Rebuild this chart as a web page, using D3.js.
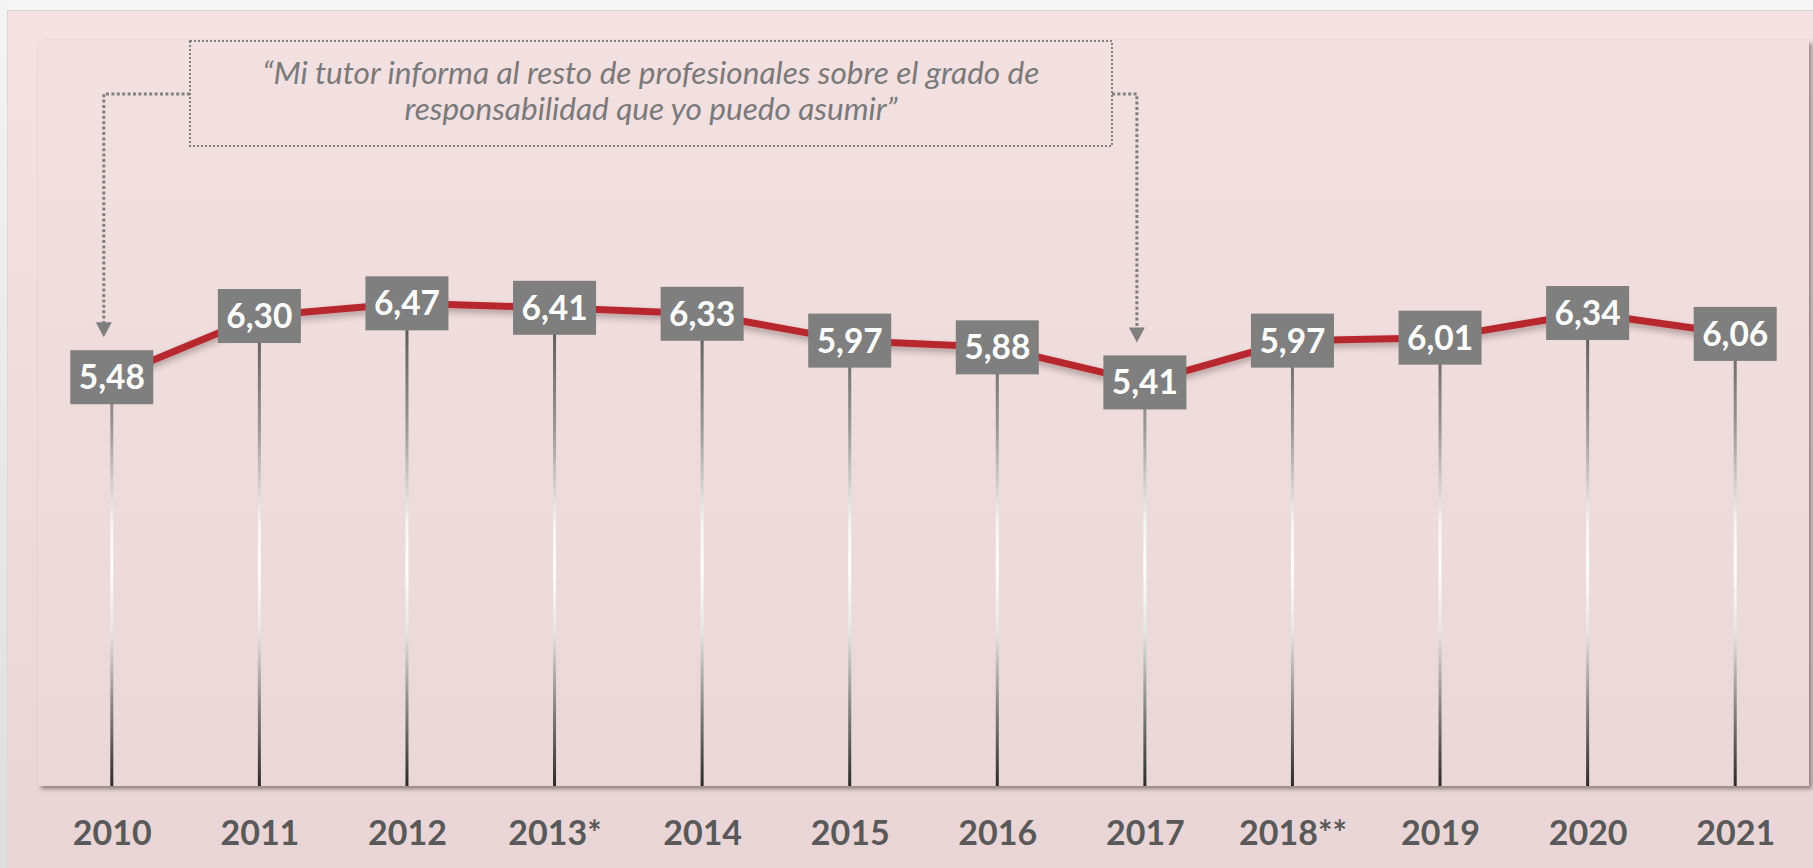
<!DOCTYPE html>
<html>
<head>
<meta charset="utf-8">
<script src="https://cdn.jsdelivr.net/npm/d3@7/dist/d3.min.js"></script>
<style>
  html, body { margin: 0; padding: 0; background: #f6f6f6; }
  svg { display: block; }
</style>
</head>
<body>
<svg id="chart" width="1813" height="868"></svg>
<script>
// ---- data ----
const categories = ["2010", "2011", "2012", "2013*", "2014", "2015", "2016", "2017", "2018**", "2019", "2020", "2021"];
const values = [5.48, 6.30, 6.47, 6.41, 6.33, 5.97, 5.88, 5.41, 5.97, 6.01, 6.34, 6.06];
const yDomain = [0, 10];
const annotationLines = [
  "\u201cMi tutor informa al resto de profesionales sobre el grado de",
  "responsabilidad que yo puedo asumir\u201d"
];
const annotationTargets = ["2010", "2017"];

// ---- layout ----
const W = 1813, H = 868;
const plot = { left: 38, top: 40, right: 1809, bottom: 786 };
const svg = d3.select("#chart");
const defs = svg.append("defs");

const fmt = v => d3.format(".2f")(v).replace(".", ",");

// gradients
const panelGrad = defs.append("linearGradient").attr("id", "panelGrad")
  .attr("x1", 0).attr("y1", 0).attr("x2", 0).attr("y2", 1);
panelGrad.append("stop").attr("offset", 0).attr("stop-color", "#f5e2e3");
panelGrad.append("stop").attr("offset", 1).attr("stop-color", "#e9d5d5");

const plotGrad = defs.append("linearGradient").attr("id", "plotGrad")
  .attr("x1", 0).attr("y1", 0).attr("x2", 0).attr("y2", 1);
plotGrad.append("stop").attr("offset", 0).attr("stop-color", "#f3e0e1");
plotGrad.append("stop").attr("offset", 1).attr("stop-color", "#ead7d7");

const sideGrad = defs.append("linearGradient").attr("id", "sideGrad")
  .attr("x1", 0).attr("y1", 0).attr("x2", 0).attr("y2", 1);
sideGrad.append("stop").attr("offset", 0).attr("stop-color", "#f4f4f4");
sideGrad.append("stop").attr("offset", 1).attr("stop-color", "#dedede");

const stemGrad = defs.append("linearGradient").attr("id", "stemGrad")
  .attr("gradientUnits", "userSpaceOnUse")
  .attr("x1", 0).attr("y1", 330).attr("x2", 0).attr("y2", plot.bottom);
[[0, "#5c5c5c"], [0.22, "#9a9a9a"], [0.42, "#f4f4f4"], [0.52, "#ffffff"], [0.66, "#e6e6e6"], [0.82, "#8a8a8a"], [1, "#2a2a2a"]]
  .forEach(([o, c]) => stemGrad.append("stop").attr("offset", o).attr("stop-color", c));

// filters
const plotShadow = defs.append("filter").attr("id", "plotShadow")
  .attr("x", "-2%").attr("y", "-2%").attr("width", "104%").attr("height", "106%");
plotShadow.append("feDropShadow").attr("dx", 3).attr("dy", 3).attr("stdDeviation", 2.2)
  .attr("flood-color", "#4a3a3a").attr("flood-opacity", 0.55);

const lineShadow = defs.append("filter").attr("id", "lineShadow")
  .attr("x", "-5%").attr("y", "-50%").attr("width", "110%").attr("height", "200%");
lineShadow.append("feDropShadow").attr("dx", 0).attr("dy", 4).attr("stdDeviation", 3)
  .attr("flood-color", "#3a2a2a").attr("flood-opacity", 0.35);

// backgrounds
svg.append("rect").attr("x", 0).attr("y", 0).attr("width", W).attr("height", H).attr("fill", "#f7f7f7");
svg.append("rect").attr("x", 0).attr("y", 0).attr("width", 7).attr("height", H).attr("fill", "url(#sideGrad)");
svg.append("rect").attr("x", 7.5).attr("y", 10.5).attr("width", W - 7).attr("height", H - 10)
  .attr("fill", "url(#panelGrad)").attr("stroke", "#d9d9d9").attr("stroke-width", 1);

svg.append("rect")
  .attr("x", plot.left).attr("y", plot.top)
  .attr("width", plot.right - plot.left).attr("height", plot.bottom - plot.top)
  .attr("fill", "url(#plotGrad)").attr("filter", "url(#plotShadow)");

// scales
const x = d3.scalePoint().domain(categories).range([plot.left, plot.right]).padding(0.5);
const y = d3.scaleLinear().domain(yDomain).range([plot.bottom, plot.top]);

const data = categories.map((c, i) => ({ c, v: values[i] }));

// stems (drop lines)
svg.append("g").selectAll("line").data(data).join("line")
  .attr("x1", d => x(d.c)).attr("x2", d => x(d.c))
  .attr("y1", d => y(d.v)).attr("y2", y(0))
  .attr("stroke", "url(#stemGrad)").attr("stroke-width", 3);

// red line
svg.append("path").datum(data)
  .attr("d", d3.line().x(d => x(d.c)).y(d => y(d.v)))
  .attr("fill", "none").attr("stroke", "#b8282e").attr("stroke-width", 7)
  .attr("stroke-linejoin", "round")
  .attr("filter", "url(#lineShadow)");

// value boxes
const boxW = 83, boxH = 54;
const lbl = svg.append("g").selectAll("g").data(data).join("g")
  .attr("transform", d => `translate(${x(d.c)},${y(d.v)})`);
lbl.append("rect").attr("x", -boxW / 2).attr("y", -boxH / 2)
  .attr("width", boxW).attr("height", boxH).attr("fill", "#7f7f7f");
lbl.append("text").attr("text-anchor", "middle").attr("y", 12)
  .attr("font-family", "Lato, 'Open Sans', sans-serif").attr("font-weight", 700)
  .attr("font-size", 33.5).attr("fill", "#ffffff")
  .text(d => fmt(d.v));

// x axis labels
const xAxis = svg.append("g").attr("transform", `translate(0,${plot.bottom})`)
  .call(d3.axisBottom(x).tickSize(0).tickPadding(35));
xAxis.select(".domain").remove();
xAxis.selectAll("text")
  .attr("font-family", "Lato, 'Open Sans', sans-serif").attr("font-weight", 700)
  .attr("font-size", 34).attr("fill", "#595959");

// annotation box
const ann = { x0: 190, y0: 41, x1: 1112, y1: 146 };
svg.append("rect").attr("x", ann.x0).attr("y", ann.y0)
  .attr("width", ann.x1 - ann.x0).attr("height", ann.y1 - ann.y0)
  .attr("fill", "none").attr("stroke", "#808080").attr("stroke-width", 2)
  .attr("stroke-dasharray", "2 2");

const annText = svg.append("g");
const lineBase = [84, 120];
const cx = (ann.x0 + ann.x1) / 2;
const tNodes = annText.selectAll("text").data(annotationLines).join("text")
  .attr("x", cx).attr("y", (d, i) => lineBase[i])
  .attr("text-anchor", "middle")
  .attr("font-family", "Lato, 'Open Sans', sans-serif").attr("font-style", "italic")
  .attr("font-size", 28).attr("fill", "#7a7a7a")
  .text(d => d);
// fit first line width to the reference width (~777px)
const w0 = tNodes.nodes()[0].getComputedTextLength();
if (w0 > 0) {
  const fs = 28 * 777 / w0;
  tNodes.attr("font-size", fs);
}

// connectors with arrows
const arrowW = 16, arrowH = 15;
const connectorY = 94;
annotationTargets.forEach((cat, k) => {
  const v = values[categories.indexOf(cat)];
  const ax = x(cat) - 8;
  const tipY = y(v) - boxH / 2 - 13;
  const startX = k === 0 ? ann.x0 : ann.x1;
  svg.append("path")
    .attr("d", `M${startX},${connectorY} H${ax} V${tipY - arrowH + 1}`)
    .attr("fill", "none").attr("stroke", "#808080").attr("stroke-width", 3)
    .attr("stroke-dasharray", "3 2.4");
  svg.append("path")
    .attr("d", `M${ax - arrowW / 2},${tipY - arrowH} L${ax + arrowW / 2},${tipY - arrowH} L${ax},${tipY} Z`)
    .attr("fill", "#7f7f7f");
});
</script>
</body>
</html>
